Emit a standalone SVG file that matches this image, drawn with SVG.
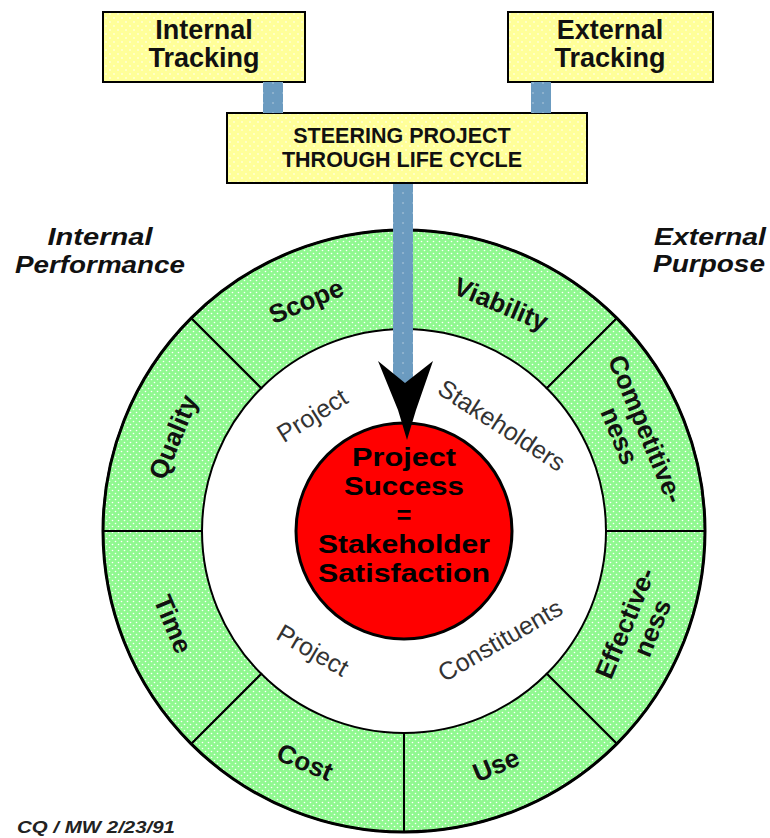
<svg xmlns="http://www.w3.org/2000/svg" width="770" height="838" viewBox="0 0 770 838">
<defs>
<pattern id="gdots" width="6" height="6" patternUnits="userSpaceOnUse">
<rect width="6" height="6" fill="#90f890"/>
<circle cx="1.5" cy="1.5" r="0.8" fill="#ffffff"/>
<circle cx="4.5" cy="4.5" r="0.8" fill="#ffffff"/>
</pattern>
<pattern id="ydots" width="8" height="8" patternUnits="userSpaceOnUse">
<rect width="8" height="8" fill="#ffff99"/>
<circle cx="2" cy="2" r="0.8" fill="#ffffff"/>
<circle cx="6" cy="6" r="0.8" fill="#ffffff"/>
</pattern>
<pattern id="bdots" width="10" height="10" patternUnits="userSpaceOnUse">
<rect width="10" height="10" fill="#6b9bc0"/>
<circle cx="3" cy="3" r="0.7" fill="#c8d8e6"/>
</pattern>
<style>
.box{fill:url(#ydots);stroke:#000;stroke-width:2}
.seg{fill:url(#gdots);stroke:#000;stroke-width:2}
.bar{fill:url(#bdots)}
.bt{font-family:"Liberation Sans",Arial,sans-serif;font-weight:bold;fill:#111;text-anchor:middle}
.rl{font-family:"Liberation Sans",Arial,sans-serif;font-weight:bold;font-size:26px;fill:#111;text-anchor:middle}
.il{font-family:"Liberation Sans",Arial,sans-serif;font-size:25px;fill:#333;text-anchor:middle}
.it{font-family:"Liberation Sans",Arial,sans-serif;font-weight:bold;font-style:italic;font-size:24px;fill:#111}
.ct{font-family:"Liberation Sans",Arial,sans-serif;font-weight:bold;font-size:25.5px;fill:#000;text-anchor:middle}
</style>
</defs>
<rect width="770" height="838" fill="#ffffff"/>

<g id="internal-tracking">
<rect class="box" x="103" y="12" width="202" height="70"/>
<text class="bt" font-size="27" x="204" y="39">Internal</text>
<text class="bt" font-size="27" x="204" y="67">Tracking</text>
</g>
<g id="external-tracking">
<rect class="box" x="508" y="12" width="205" height="70"/>
<text class="bt" font-size="27" x="610" y="39">External</text>
<text class="bt" font-size="27" x="610" y="67">Tracking</text>
</g>
<g id="steering">
<rect class="box" x="227" y="113" width="360" height="70"/>
<text class="bt" font-size="21.5" x="402" y="143">STEERING PROJECT</text>
<text class="bt" font-size="21.5" x="402" y="167">THROUGH LIFE CYCLE</text>
</g>

<g id="label-internal-performance">
<text class="it" x="100" y="245" text-anchor="middle" textLength="105" lengthAdjust="spacingAndGlyphs">Internal</text>
<text class="it" x="100" y="273" text-anchor="middle" textLength="170" lengthAdjust="spacingAndGlyphs">Performance</text>
</g>
<g id="label-external-purpose">
<text class="it" x="654" y="245" textLength="112" lengthAdjust="spacingAndGlyphs">External</text>
<text class="it" x="653" y="272" textLength="112" lengthAdjust="spacingAndGlyphs">Purpose</text>
</g>

<g id="seg-scope">
<path class="seg" d="M404,230 A301,301 0 0 0 191.2,318.2 L261.2,388.2 A202,202 0 0 1 404,329 Z"/>
<text class="rl" transform="translate(306,301) rotate(-22.5)" y="9">Scope</text>
</g>
<g id="seg-viability">
<path class="seg" d="M616.8,318.2 A301,301 0 0 0 404,230 L404,329 A202,202 0 0 1 546.8,388.2 Z"/>
<text class="rl" transform="translate(501,304) rotate(22.5)" y="9">Viability</text>
</g>
<g id="seg-competitiveness">
<path class="seg" d="M705,531 A301,301 0 0 0 616.8,318.2 L546.8,388.2 A202,202 0 0 1 606,531 Z"/>
<g transform="translate(634,434) rotate(67.5)">
<text class="rl" y="-4">Competitive-</text>
<text class="rl" x="-4" y="23">ness</text>
</g>
</g>
<g id="seg-effectiveness">
<path class="seg" d="M616.8,743.8 A301,301 0 0 0 705,531 L606,531 A202,202 0 0 1 546.8,673.8 Z"/>
<g transform="translate(637,628) rotate(-67.5)">
<text class="rl" y="-4">Effective-</text>
<text class="rl" x="6" y="23">ness</text>
</g>
</g>
<g id="seg-use">
<path class="seg" d="M404,832 A301,301 0 0 0 616.8,743.8 L546.8,673.8 A202,202 0 0 1 404,733 Z"/>
<text class="rl" transform="translate(496,765) rotate(-22.5)" y="9">Use</text>
</g>
<g id="seg-cost">
<path class="seg" d="M191.2,743.8 A301,301 0 0 0 404,832 L404,733 A202,202 0 0 1 261.2,673.8 Z"/>
<text class="rl" transform="translate(305,762) rotate(22.5)" y="9">Cost</text>
</g>
<g id="seg-time">
<path class="seg" d="M103,531 A301,301 0 0 0 191.2,743.8 L261.2,673.8 A202,202 0 0 1 202,531 Z"/>
<text class="rl" transform="translate(173,624) rotate(67.5)" y="9">Time</text>
</g>
<g id="seg-quality">
<path class="seg" d="M191.2,318.2 A301,301 0 0 0 103,531 L202,531 A202,202 0 0 1 261.2,388.2 Z"/>
<text class="rl" transform="translate(173,437) rotate(-67.5)" y="9">Quality</text>
</g>
<circle cx="404" cy="531" r="301" fill="none" stroke="#000" stroke-width="3"/>

<g id="inner-labels">
<text class="il" transform="translate(312,415) rotate(-32)" y="9">Project</text>
<text class="il" transform="translate(502,425) rotate(33)" y="9">Stakeholders</text>
<text class="il" transform="translate(313,650) rotate(30)" y="9">Project</text>
<text class="il" transform="translate(500,640) rotate(-30)" y="9">Constituents</text>
</g>

<g id="center">
<circle cx="404" cy="531" r="108" fill="#ff0000" stroke="#000" stroke-width="3"/>
<text class="ct" x="404" y="466" textLength="104" lengthAdjust="spacingAndGlyphs">Project</text>
<text class="ct" x="404" y="495" textLength="120" lengthAdjust="spacingAndGlyphs">Success</text>
<text class="ct" x="404" y="524">=</text>
<text class="ct" x="404" y="553" textLength="172" lengthAdjust="spacingAndGlyphs">Stakeholder</text>
<text class="ct" x="404" y="582" textLength="172" lengthAdjust="spacingAndGlyphs">Satisfaction</text>
</g>

<g id="connectors">
<rect class="bar" x="263" y="82" width="20" height="31"/>
<rect class="bar" x="531" y="82" width="20" height="31"/>
<rect class="bar" x="393" y="184" width="20" height="200"/>
<path d="M378,361 L405,383 L433,361 L416,410 L407,440 L398,410 Z" fill="#000"/>
</g>

<text x="17" y="833" font-family="Liberation Sans, Arial, sans-serif" font-weight="bold" font-style="italic" font-size="16" fill="#222" textLength="158" lengthAdjust="spacingAndGlyphs">CQ / MW 2/23/91</text>
</svg>
